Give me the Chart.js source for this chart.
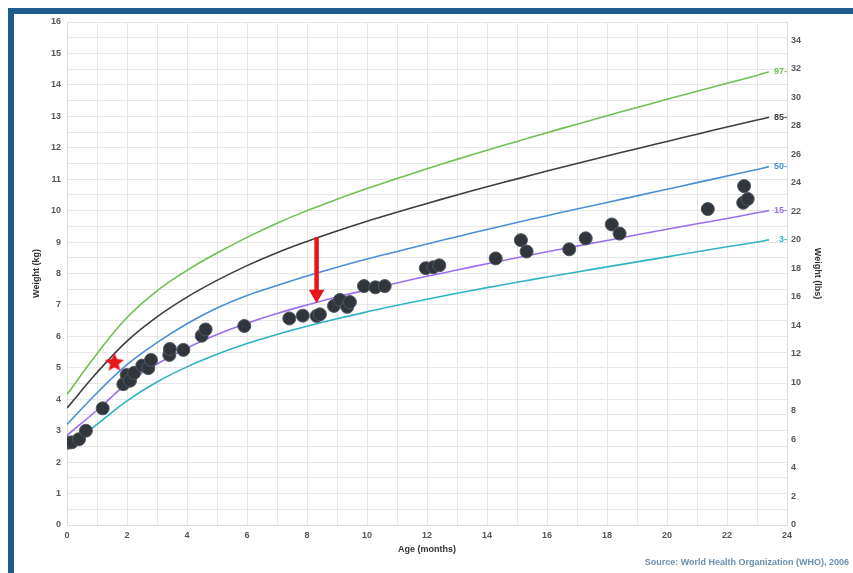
<!DOCTYPE html>
<html>
<head>
<meta charset="utf-8">
<script src="https://cdn.jsdelivr.net/npm/chart.js@4"></script>
<style>
  html, body { margin: 0; padding: 0; background: #fff; }
  #frame {
    position: absolute; left: 8px; top: 8px; width: 845px; height: 565px;
    border-top: 6px solid #1c5d8b; border-left: 6px solid #1c5d8b;
    box-sizing: border-box;
  }
  #growth { position: absolute; left: 0; top: 0; }
</style>
</head>
<body>
<div id="frame"></div>
<canvas id="growth" width="853" height="573"></canvas>
<script>
// WHO percentile curves (kg)
const curveAge = [0, 1, 2, 3, 4, 5, 6, 7, 8, 9, 10, 11, 12, 13, 14, 15, 16, 17, 18, 19, 20, 21, 22, 23, 23.4];
const p97 = [4.15, 5.45, 6.6, 7.45, 8.1, 8.65, 9.15, 9.6, 10.0, 10.36, 10.7, 11.02, 11.33, 11.63, 11.92, 12.2, 12.48, 12.75, 13.02, 13.28, 13.54, 13.8, 14.05, 14.3, 14.42];
const p85 = [3.72, 4.85, 5.85, 6.62, 7.25, 7.78, 8.25, 8.66, 9.02, 9.35, 9.66, 9.95, 10.23, 10.5, 10.76, 11.01, 11.26, 11.5, 11.74, 11.97, 12.2, 12.43, 12.66, 12.88, 12.97];
const p50 = [3.2, 4.2, 5.1, 5.8, 6.4, 6.9, 7.3, 7.62, 7.92, 8.2, 8.46, 8.7, 8.94, 9.17, 9.4, 9.62, 9.84, 10.05, 10.26, 10.47, 10.68, 10.89, 11.1, 11.31, 11.4];
const p15 = [2.85, 3.65, 4.5, 5.12, 5.63, 6.06, 6.42, 6.73, 7.0, 7.25, 7.48, 7.7, 7.91, 8.11, 8.31, 8.5, 8.69, 8.87, 9.05, 9.23, 9.41, 9.58, 9.75, 9.93, 10.0];
const p3 = [2.45, 3.2, 3.95, 4.55, 5.03, 5.43, 5.77, 6.06, 6.32, 6.56, 6.78, 6.99, 7.18, 7.37, 7.55, 7.72, 7.89, 8.05, 8.21, 8.37, 8.53, 8.69, 8.85, 9.0, 9.07];
const percentileNames = ["97", "85", "50", "15", "3"];

// Measured visits
const visitAge = [0.04, 0.16, 0.4, 0.63, 1.19, 1.88, 1.99, 2.1, 2.24, 2.51, 2.71, 2.8, 3.41, 3.43, 3.88, 4.49, 4.62, 5.91,
  7.41, 7.86, 8.32, 8.43, 8.9, 9.1, 9.34, 9.43, 9.9, 10.28, 10.59, 11.96, 12.21, 12.41, 14.29,
  15.13, 15.32, 16.74, 17.29, 18.16, 18.42, 21.36, 22.57, 22.54, 22.69];
const visitWeight = [2.62, 2.63, 2.73, 3.0, 3.71, 4.48, 4.77, 4.59, 4.84, 5.07, 4.99, 5.25, 5.41, 5.6, 5.57, 6.02, 6.22, 6.33,
  6.57, 6.66, 6.65, 6.7, 6.97, 7.16, 6.94, 7.09, 7.6, 7.56, 7.6, 8.17, 8.2, 8.26, 8.48,
  9.06, 8.7, 8.77, 9.12, 9.56, 9.27, 10.05, 10.78, 10.25, 10.37];

// Highlight marks
const starAge = [1.58];
const starWeight = [5.16];
const arrowAge = [8.32, 8.32];
const arrowWeight = [9.15, 7.34];

const KG_TO_LB = 2.20462;
const FONT = "'Liberation Sans', Arial, sans-serif";

const toPoints = (xs, ys) => xs.map((x, i) => ({ x: x, y: ys[i] }));

// filled red star image for the point style
function makeStar(r, color) {
  const c = document.createElement("canvas");
  c.width = c.height = r * 2 + 2;
  const g = c.getContext("2d");
  g.fillStyle = color;
  g.beginPath();
  for (let i = 0; i < 10; i++) {
    const rad = i % 2 === 0 ? r : r * 0.45;
    const a = -Math.PI / 2 + (i * Math.PI) / 5;
    const px = r + 1 + rad * Math.cos(a);
    const py = r + 1 + rad * Math.sin(a);
    if (i === 0) g.moveTo(px, py); else g.lineTo(px, py);
  }
  g.closePath();
  g.fill();
  return c;
}

const curveColors = ["#6fbf52", "#3d3d3d", "#4a8fd6", "#9b6ded", "#2fb2c2"];
const curves = [p97, p85, p50, p15, p3];

const curveSets = curves.map((vals, i) => ({
  type: "line",
  label: percentileNames[i],
  data: toPoints(curveAge, vals),
  borderColor: curveColors[i],
  borderWidth: 1.6,
  pointRadius: 0,
  tension: 0.4,
  fill: false,
}));

// percentile labels at the end of each curve + source line
const labelPlugin = {
  id: "labels",
  afterDatasetsDraw(chart) {
    const c = chart.ctx;
    const xs = chart.scales.x;
    const ys = chart.scales.y;
    c.save();
    c.font = "bold 9px " + FONT;
    c.textAlign = "right";
    c.textBaseline = "middle";
    curves.forEach((vals, i) => {
      c.fillStyle = curveColors[i];
      c.fillText(percentileNames[i] + "-", xs.getPixelForValue(24), ys.getPixelForValue(vals[vals.length - 1]));
    });
    c.fillStyle = "#6b8fb0";
    c.fillText("Source: World Health Organization (WHO), 2006", 849, 563);
    c.restore();
  },
};

new Chart(document.getElementById("growth"), {
  type: "scatter",
  data: {
    datasets: [
      {
        type: "line",
        label: "arrow",
        data: toPoints(arrowAge, arrowWeight),
        borderColor: "#e8151c",
        backgroundColor: "#e8151c",
        borderWidth: 4.5,
        pointStyle: "triangle",
        rotation: 180,
        pointRadius: (ctx) => (ctx.dataIndex === 1 ? 9 : 0),
        pointBorderWidth: 0,
      },
      {
        label: "star",
        data: toPoints(starAge, starWeight),
        pointStyle: makeStar(10, "#e8151c"),
      },
      {
        label: "visits",
        data: toPoints(visitAge, visitWeight),
        backgroundColor: "#30363c",
        borderColor: "#50575e",
        borderWidth: 1,
        pointRadius: 6.5,
      },
      ...curveSets,
    ],
  },
  options: {
    responsive: false,
    animation: false,
    layout: { padding: { top: 22, left: 0, right: 0, bottom: 0 } },
    plugins: { legend: { display: false }, tooltip: { enabled: false } },
    scales: {
      x: {
        type: "linear",
        min: 0,
        max: 24,
        afterFit: (s) => { s.height = 48; },
        grid: { color: "#e6e6e6", drawTicks: false },
        border: { color: "#dcdcdc" },
        ticks: {
          stepSize: 1,
          autoSkip: false,
          maxRotation: 0,
          padding: 5,
          color: "#555",
          font: { family: FONT, size: 9, weight: "bold" },
          callback: (v) => (v % 2 === 0 ? v : ""),
        },
        title: {
          display: true,
          text: "Age (months)",
          color: "#333",
          font: { family: FONT, size: 9, weight: "bold" },
          padding: { top: 0, bottom: 18 },
        },
      },
      y: {
        position: "left",
        min: 0,
        max: 16,
        afterFit: (s) => { s.width = 67; },
        grid: { color: "#e6e6e6", drawTicks: false },
        border: { color: "#dcdcdc" },
        ticks: {
          stepSize: 0.5,
          autoSkip: false,
          padding: 6,
          color: "#555",
          font: { family: FONT, size: 9, weight: "bold" },
          callback: (v) => (Number.isInteger(v) ? v : ""),
        },
        title: {
          display: true,
          text: "Weight (kg)",
          color: "#333",
          font: { family: FONT, size: 9, weight: "bold" },
          padding: { top: 31, bottom: 0 },
        },
      },
      yLbs: {
        position: "right",
        min: 0,
        max: 16 * KG_TO_LB,
        afterFit: (s) => { s.width = 66; },
        grid: { display: false, drawTicks: false },
        border: { color: "#dcdcdc" },
        ticks: {
          stepSize: 2,
          autoSkip: false,
          padding: 4,
          color: "#555",
          font: { family: FONT, size: 9, weight: "bold" },
          callback: (v) => (Number.isInteger(v) && v % 2 === 0 ? v : ""),
        },
        title: {
          display: true,
          text: "Weight (lbs)",
          color: "#333",
          font: { family: FONT, size: 9, weight: "bold" },
          padding: { top: 30, bottom: 0 },
        },
      },
    },
  },
  plugins: [labelPlugin],
});
</script>
</body>
</html>
